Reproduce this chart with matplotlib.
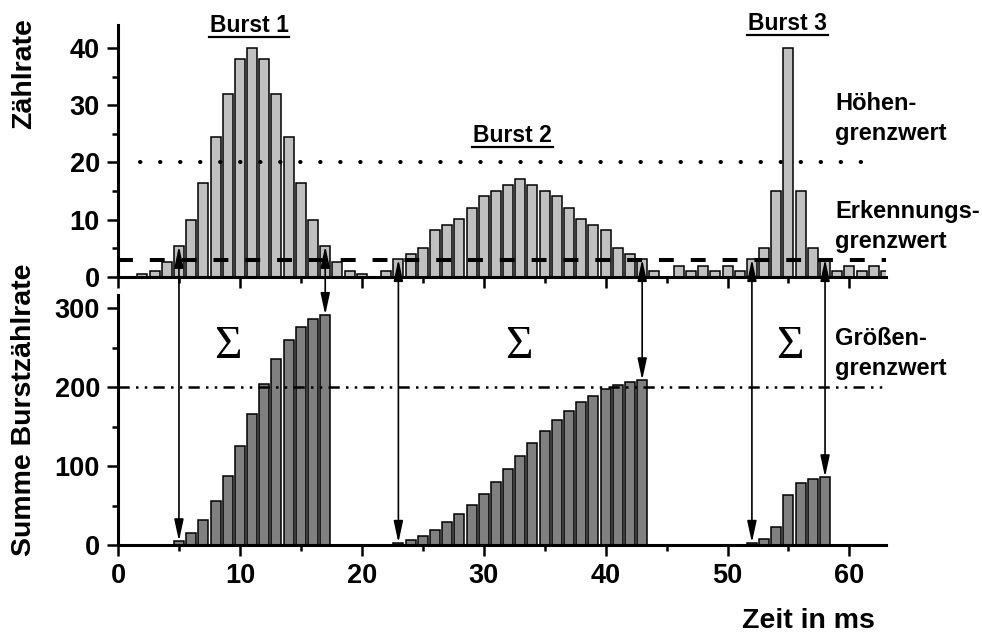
import numpy as np
import matplotlib
matplotlib.use('Agg')
import matplotlib.pyplot as plt
from matplotlib.patches import ConnectionPatch
from matplotlib.lines import Line2D

plt.rcParams['font.family'] = ['Liberation Sans', 'DejaVu Sans']
plt.rcParams['font.weight'] = 'bold'

# Zählrate je ms (oberes Diagramm)
zeit = np.arange(1, 64)
zaehlrate = [0, 0.5, 1, 2.6, 5.4, 9.9, 16.5, 24.4, 32, 38,
             40, 38, 32, 24.4, 16.5, 9.9, 5.4, 2.6, 1, 0.5,
             0, 1, 3.1, 4, 5.1, 8.2, 9, 10.1, 12.1, 14.1,
             15.1, 16.1, 17.1, 16.1, 15.1, 14.1, 12.1, 10.1, 9, 8.2,
             5.1, 4, 3.1, 1, 0, 2, 1, 2, 1, 2,
             1, 3.1, 5.1, 15.1, 40, 15.1, 5.1, 3.1, 1, 2,
             1, 2, 1]

# Summe Burstzählrate (unteres Diagramm)
zeit_b1 = np.arange(5, 18)
summe_b1 = [5, 14.8, 31.7, 56, 87.9, 125.9, 166, 203.6, 235.7, 260, 276.7, 286.8, 291.9]
zeit_b2 = np.arange(23, 44)
summe_b2 = [3, 6.3, 11.8, 19.4, 28.7, 38.9, 50.7, 65, 79.4, 96.3, 113.2, 129.3,
            144.5, 158, 170.2, 180.8, 189.3, 197.7, 202.8, 206.2, 209.1]
zeit_b3 = np.arange(52, 59)
summe_b3 = [3, 8, 23.2, 63, 78.2, 83.3, 86.2]

erkennung = 3
hoehe = 20
groesse = 200

# Pfeile: (Zeit, Zählrate oben, Summe unten)
pfeil_x = [5, 17, 23, 43, 52, 58]
pfeil_oben = [5.4, 5.4, 3.1, 3.1, 3.1, 3.1]
pfeil_unten = [5, 291.9, 3, 209.1, 3, 86.2]

W, H = 982, 637
fig = plt.figure(figsize=(W / 100, H / 100), dpi=100)

def px(x, y):
    return x / W, 1 - y / H

ax1 = fig.add_axes([118 / W, 1 - 277 / H, 768 / W, 252 / H])
ax2 = fig.add_axes([118 / W, 1 - 545 / H, 768 / W, 250 / H])

ax1.bar(zeit, zaehlrate, width=0.82, color='#c0c0c0', edgecolor='black', linewidth=1.1, zorder=2)
for xs, ys in [(zeit_b1, summe_b1), (zeit_b2, summe_b2), (zeit_b3, summe_b3)]:
    ax2.bar(xs, ys, width=0.82, color='#808080', edgecolor='black', linewidth=1.1, zorder=2)

ax1.plot([0, 63], [erkennung, erkennung], color='black', lw=2.9, dashes=(3.7, 4.2), zorder=3)
l, = ax1.plot([1.8, 62], [hoehe, hoehe], color='black', lw=2.9, dashes=(0.1, 4.87), zorder=3)
l.set_dash_capstyle('round')
ax2.plot([0, 62.8], [groesse, groesse], color='black', lw=1.8,
         dashes=(4.5, 2.5, 1, 2.5, 1, 2.5), zorder=3)

ax1.set_xlim(0, 63)
ax1.set_ylim(0, 44)
ax2.set_xlim(0, 63)
ax2.set_ylim(0, 317)

for ax in (ax1, ax2):
    ax.spines['top'].set_visible(False)
    ax.spines['right'].set_visible(False)
    ax.spines['left'].set_linewidth(2.2)
    ax.spines['bottom'].set_linewidth(2.2)
    ax.set_xticks(np.arange(0, 61, 10))
    ax.set_xticks(np.arange(5, 64, 10), minor=True)
    ax.tick_params(which='major', direction='out', length=8, width=1.8, labelsize=19.5, pad=5)
    ax.tick_params(which='minor', direction='out', length=4.5, width=1.8)

ax1.set_yticks([0, 10, 20, 30, 40])
ax1.set_yticks([5, 15, 25, 35], minor=True)
ax1.tick_params(axis='x', labelbottom=False)
ax2.set_yticks([0, 100, 200, 300])
ax2.set_yticks([50, 150, 250], minor=True)

for x, yt, yb in zip(pfeil_x, pfeil_oben, pfeil_unten):
    con = ConnectionPatch(xyA=(x, yt), coordsA=ax1.transData,
                          xyB=(x, yb), coordsB=ax2.transData,
                          arrowstyle='<|-|>,head_length=1.3,head_width=0.28',
                          color='black', lw=1.2, mutation_scale=10, zorder=5)
    fig.add_artist(con)

# Beschriftungen
fig.text(*px(24, 74), 'Zählrate', rotation=90, ha='center', va='center', fontsize=20.5)
fig.text(*px(24, 410), 'Summe Burstzählrate', rotation=90, ha='center', va='center', fontsize=20.5)
fig.text(*px(808, 628), 'Zeit in ms', ha='center', va='baseline', fontsize=20.5)

for name, cx, base, x0, x1 in [('Burst 1', 249, 32, 209, 289),
                                 ('Burst 2', 512, 142, 472, 553),
                                 ('Burst 3', 787, 30, 747, 828)]:
    fig.text(*px(cx, base), name, ha='center', va='baseline', fontsize=16.5)
    fig.add_artist(Line2D([x0 / W, x1 / W], [1 - (base + 5) / H] * 2, color='black', lw=1.6))

for lines in [(('Höhen-', 110), ('grenzwert', 140)),
              (('Erkennungs-', 218), ('grenzwert', 248)),
              (('Größen-', 345), ('grenzwert', 375))]:
    for txt, base in lines:
        fig.text(*px(835, base), txt, ha='left', va='baseline', fontsize=17)

sig_font = ['Liberation Serif', 'DejaVu Serif']
for cx in [228, 519, 790]:
    fig.text(*px(cx, 347), 'Σ', ha='center', va='center', fontsize=34,
             family=sig_font, fontweight='normal')

fig.savefig('out.png', dpi=100)
